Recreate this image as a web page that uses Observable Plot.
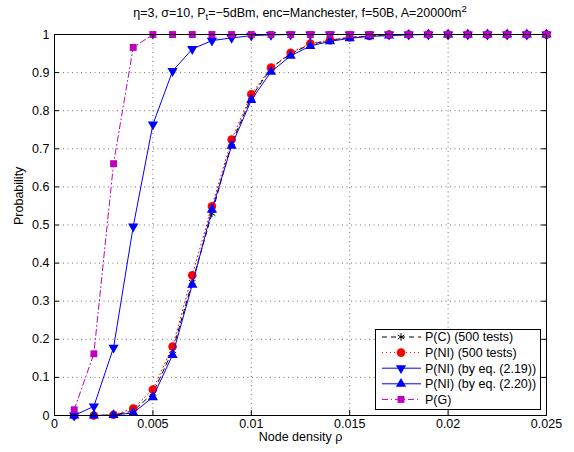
<!DOCTYPE html>
<html><head><meta charset="utf-8">
<script src="https://cdn.jsdelivr.net/npm/d3@7"></script>
<script src="https://cdn.jsdelivr.net/npm/@observablehq/plot@0.6"></script>
<style>body{margin:0;background:#fff}</style>
</head><body><div id="chart"></div>
<script>
const density = [0.001,0.002,0.003,0.004,0.005,0.006,0.007,0.008,0.009,0.010,0.011,0.012,0.013,0.014,0.015,0.016,0.017,0.018,0.019,0.020,0.021,0.022,0.023,0.024,0.025];
const pC       = [0,0,0.001,0.012,0.058,0.170,0.350,0.530,0.715,0.835,0.912,0.950,0.974,0.985,0.992,0.996,1,1,1,1,1,1,1,1,1];
const pNItests = [0,0,0.002,0.018,0.068,0.181,0.368,0.549,0.724,0.843,0.913,0.952,0.976,0.985,0.993,0.996,1,1,1,1,1,1,1,1,1];
const pNI219   = [0,0.024,0.178,0.496,0.764,0.904,0.962,0.984,0.991,0.997,0.999,1,1,1,1,1,1,1,1,1,1,1,1,1,1];
const pNI220   = [0,0,0.001,0.007,0.048,0.159,0.343,0.540,0.708,0.828,0.902,0.944,0.970,0.982,0.990,0.995,0.997,0.999,1,1,1,1,1,1,1];
const pG       = [0.015,0.162,0.661,0.966,1,1,1,1,1,1,1,1,1,1,1,1,1,1,1,1,1,1,1,1,1];
const xTicks = [0,0.005,0.01,0.015,0.02,0.025];
const xTickLabels = ["0","0.005","0.01","0.015","0.02","0.025"];
const yTicks = [0,0.1,0.2,0.3,0.4,0.5,0.6,0.7,0.8,0.9,1];
const yTickLabels = ["0","0.1","0.2","0.3","0.4","0.5","0.6","0.7","0.8","0.9","1"];
const seriesNames = ["P(C) (500 tests)","P(NI) (500 tests)","P(NI) (by eq. (2.19))","P(NI) (by eq. (2.20))","P(G)"];

const rows = vals => density.map((x, i) => ({x, y: vals[i]}));
const S3 = Math.sqrt(3);
const downTri = {draw(ctx, size){const y = Math.sqrt(size/(S3*3)); ctx.moveTo(0, 2*y); ctx.lineTo(-S3*y, -y); ctx.lineTo(S3*y, -y); ctx.closePath();}};
const upTri = {draw(ctx, size){const y = -Math.sqrt(size/(S3*3)); ctx.moveTo(0, 2*y); ctx.lineTo(-S3*y, -y); ctx.lineTo(S3*y, -y); ctx.closePath();}};

const BLUE = "#0000ff", RED = "#ff0000", MAG = "#bf00bf";
const styles = [
  {stroke:"#000", dash:"5,4", symbol:"asterisk", fill:"none", mstroke:"#000", r:3.6},
  {stroke:RED, dash:"1,3", symbol:"circle", fill:RED, mstroke:"none", r:4.3},
  {stroke:BLUE, dash:null, symbol:downTri, fill:BLUE, mstroke:"none", r:3.8},
  {stroke:BLUE, dash:null, symbol:upTri, fill:BLUE, mstroke:"none", r:3.8},
  {stroke:MAG, dash:"6,3,1,3", symbol:"square", fill:MAG, mstroke:"none", r:3.9}
];
const seriesVals = [pC, pNItests, pNI219, pNI220, pG];

const tickLenY = 0.013, tickLenX = 0.00025;
const marks = [
  Plot.gridX(xTicks.slice(1, -1), {stroke:"#000", strokeOpacity:0.55, strokeDasharray:"1,3.5"}),
  Plot.gridY(yTicks.slice(1, -1), {stroke:"#000", strokeOpacity:0.55, strokeDasharray:"1,3.5"})
];
seriesVals.forEach((v, i) => {
  const s = styles[i];
  marks.push(Plot.line(rows(v), {x:"x", y:"y", stroke:s.stroke, strokeWidth:1, strokeDasharray:s.dash}));
  marks.push(Plot.dot(rows(v), {x:"x", y:"y", symbol:()=>s.symbol, r:s.r, fill:s.fill, stroke:s.mstroke, strokeWidth:1}));
});
marks.push(
  Plot.frame({stroke:"#000", strokeWidth:1}),
  Plot.ruleX(xTicks, {x:d=>d, y1:0, y2:tickLenY, stroke:"#000"}),
  Plot.ruleX(xTicks, {x:d=>d, y1:1-tickLenY, y2:1, stroke:"#000"}),
  Plot.ruleY(yTicks, {y:d=>d, x1:0, x2:tickLenX, stroke:"#000"}),
  Plot.ruleY(yTicks, {y:d=>d, x1:0.025-tickLenX, x2:0.025, stroke:"#000"}),
  Plot.text(xTicks, {x:d=>d, text:(d,i)=>xTickLabels[i], frameAnchor:"bottom", dy:12, fill:"#000"}),
  Plot.text(yTicks, {y:d=>d, text:(d,i)=>yTickLabels[i], frameAnchor:"left", textAnchor:"end", dx:-5, fill:"#000"}),
  Plot.text(["Node density \u03c1"], {frameAnchor:"bottom", dy:25, fill:"#000"}),
  Plot.text(["Probability"], {frameAnchor:"left", rotate:-90, dx:-36, fill:"#000"})
);

const svg = Plot.plot({
  width:574, height:452, marginLeft:54, marginRight:28, marginTop:34, marginBottom:37,
  x:{domain:[0,0.025], axis:null}, y:{domain:[0,1], axis:null},
  style:{fontFamily:"'Liberation Sans', Arial, sans-serif", fontSize:"12.5px", background:"#fff", overflow:"visible"},
  marks
});

const sel = d3.select(svg);
// title
const t = sel.append("text").attr("x", 300).attr("y", 17).attr("text-anchor", "middle").attr("fill", "#000").style("font-size", "12.5px");
t.append("tspan").text("\u03b7=3, \u03c3=10, P");
t.append("tspan").attr("dy", 3).style("font-size", "9.5px").text("t");
t.append("tspan").attr("dy", -3).text("=\u22125dBm, enc=Manchester, f=50B, A=20000m");
t.append("tspan").attr("dy", -5).style("font-size", "9.5px").text("2");

// legend
const lg = sel.append("g").attr("text-anchor", "start");
lg.append("rect").attr("x", 375.5).attr("y", 329.5).attr("width", 165).attr("height", 80).attr("fill", "#fff").attr("stroke", "#000");
seriesNames.forEach((name, i) => {
  const s = styles[i];
  const yy = 337 + i * 15.6;
  lg.append("line").attr("x1", 382).attr("x2", 421).attr("y1", yy).attr("y2", yy)
    .attr("stroke", s.stroke).attr("stroke-width", 1).attr("stroke-dasharray", s.dash);
  const sym = typeof s.symbol === "string" ? ({asterisk:d3.symbolAsterisk, circle:d3.symbolCircle, square:d3.symbolSquare})[s.symbol] : s.symbol;
  lg.append("path").attr("transform", `translate(401,${yy})`).attr("d", d3.symbol(sym, s.r * s.r * Math.PI)())
    .attr("fill", s.fill).attr("stroke", s.mstroke === "none" ? null : s.mstroke);
  lg.append("text").attr("x", 425).attr("y", yy).attr("dy", "0.35em").attr("text-anchor", "start").attr("fill", "#000").text(name);
});

document.getElementById("chart").appendChild(svg);
</script>
</body></html>
